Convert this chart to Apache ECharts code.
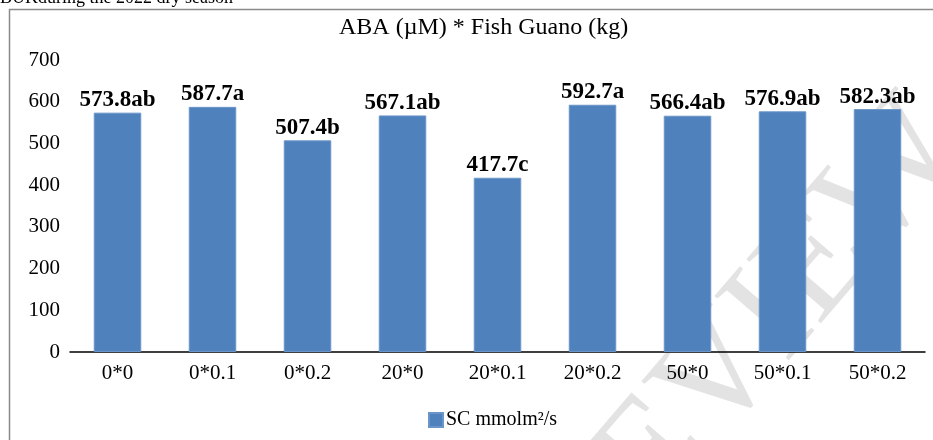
<!DOCTYPE html>
<html><head><meta charset="utf-8">
<script src="https://cdn.jsdelivr.net/npm/echarts@6/dist/echarts.min.js"></script>
<style>html,body{margin:0;padding:0;background:#fff}#c{width:933px;height:440px}</style>
</head><body><div id="c"></div>
<script>
const categories = ['0*0','0*0.1','0*0.2','20*0','20*0.1','20*0.2','50*0','50*0.1','50*0.2'];
const values = [573.8, 587.7, 507.4, 567.1, 417.7, 592.7, 566.4, 576.9, 582.3];
const letters = ['ab','a','b','ab','c','a','ab','ab','ab'];
const seriesName = 'SC mmolm²/s';
const titleText = 'ABA (µM) * Fish Guano (kg)';
const FONT = '"Liberation Serif", "Times New Roman", serif';
const chart = echarts.init(document.getElementById('c'));
chart.setOption({
  animation: false,
  backgroundColor: '#fff',
  title: { text: titleText, left: 334, top: 11, textStyle: { fontFamily: FONT, fontSize: 24, fontWeight: 'normal', color: '#000' } },
  graphic: [
    { type: 'rect', z: -10, shape: { x: 9.5, y: 9.5, width: 1000, height: 500 }, style: { fill: 'none', stroke: '#8a8a8a', lineWidth: 1.5 } },
    { type: 'text', x: 0, y: 7, style: { text: 'BUKduring the 2022 dry season', font: '18px ' + FONT, fill: '#000', verticalAlign: 'bottom', textVerticalAlign: 'bottom' } },
    { type: 'text', z: -5, x: 750, y: 345, rotation: 0.86, style: { text: 'REVIEW', font: '150px ' + FONT, fill: 'rgba(200,200,200,0.5)', textVerticalAlign: 'middle', textAlign: 'center', verticalAlign: 'middle', align: 'center' } }
  ],
  legend: { data: [seriesName], left: 423, top: 405, itemWidth: 14, itemHeight: 14, itemGap: 4, icon: 'rect', textStyle: { fontFamily: FONT, fontSize: 20, color: '#000', padding: [0,0,0,-2] } },
  grid: { left: 70, right: 8, top: 60, bottom: 88, containLabel: false },
  xAxis: {
    type: 'category', data: categories,
    axisLine: { lineStyle: { color: '#000', width: 1.5 } },
    axisTick: { show: false },
    axisLabel: { fontFamily: FONT, fontSize: 21, color: '#000', margin: 11 }
  },
  yAxis: {
    type: 'value', min: 0, max: 700, interval: 100,
    axisLine: { show: false }, axisTick: { show: false }, splitLine: { show: false },
    axisLabel: { fontFamily: FONT, fontSize: 21, color: '#000', margin: 10 }
  },
  series: [{
    name: seriesName, type: 'bar', data: values, barWidth: '50%',
    itemStyle: { color: '#4f81bd', borderColor: '#6b95c8', borderWidth: 1 },
    label: { show: true, position: 'top', distance: 1, fontFamily: FONT, fontSize: 23, fontWeight: 'bold', color: '#000',
      formatter: p => p.value.toFixed(1) + letters[p.dataIndex] }
  }]
});
</script></body></html>
